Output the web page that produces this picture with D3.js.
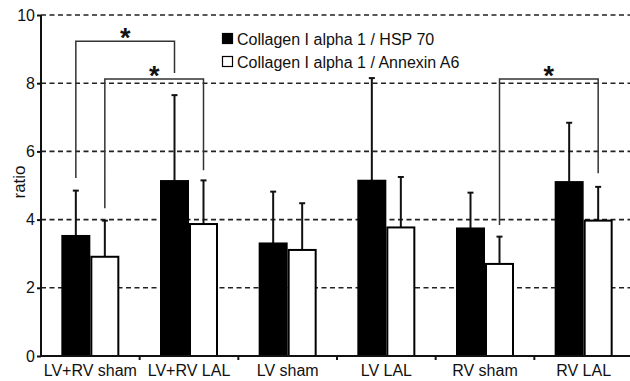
<!DOCTYPE html>
<head>
    <style>
    body { margin: 0; background: #fff; }
    text { font-family: "Liberation Sans", Arial, sans-serif; fill: #111; }
    .grid line { stroke: #222; stroke-width: 1.6; stroke-dasharray: 5,3.5; }
    </style>
    <script src="https://d3js.org/d3.v7.min.js"></script>
</head>
<body>
    <svg width="630" height="381"></svg>
    <script>

    var groups = ["LV+RV sham", "LV+RV LAL", "LV sham", "LV LAL", "RV sham", "RV LAL"];
    var seriesNames = ["Collagen I alpha 1 / HSP 70", "Collagen I alpha 1 / Annexin A6"];
    var hspMean = [3.52, 5.13, 3.30, 5.14, 3.74, 5.10];
    var hspErr  = [4.85, 7.65, 4.82, 8.15, 4.79, 6.84];
    var annMean = [2.91, 3.87, 3.11, 3.77, 2.70, 3.97];
    var annErr  = [3.97, 5.15, 4.48, 5.25, 3.50, 4.96];
    var yTicks = [0, 2, 4, 6, 8, 10];
    // significance brackets: [group, series] -> [group, series], leg ends
    var brackets = [
      {a: [0, 0], b: [1, 0], top: 9.23, ya: 5.22, yb: 8.3},
      {a: [0, 1], b: [1, 1], top: 8.12, ya: 4.33, yb: 5.45},
      {a: [4, 1], b: [5, 1], top: 8.12, ya: 3.84, yb: 5.36}
    ];

    var svg = d3.select("svg"),
        margin = {left: 41, top: 15, right: 0, bottom: 25},
        width = 630, height = 381;

    var x = d3.scaleBand().domain(groups).range([margin.left, 633]);
    var sub = d3.scaleBand().domain([0, 1]).range([0, 58]);
    var y = d3.scaleLinear().domain([0, 10]).range([356, 15]);

    function cx(g, s) { return x(groups[g]) + (x.bandwidth() - 58) / 2 + sub(s) + sub.bandwidth() / 2; }

    // dashed grid
    svg.append("g").attr("class", "grid")
      .selectAll("line").data(yTicks.slice(1))
      .enter().append("line")
        .attr("x1", margin.left).attr("x2", width)
        .attr("y1", function(d) { return y(d); }).attr("y2", function(d) { return y(d); });

    var data = [];
    groups.forEach(function(g, i) {
      data.push({g: i, s: 0, v: hspMean[i], e: hspErr[i]});
      data.push({g: i, s: 1, v: annMean[i], e: annErr[i]});
    });

    // error bars
    var eb = svg.append("g").attr("stroke", "#111").attr("stroke-width", 2);
    data.forEach(function(d) {
      var c = cx(d.g, d.s);
      eb.append("line").attr("x1", c).attr("x2", c).attr("y1", y(d.v)).attr("y2", y(d.e));
      eb.append("line").attr("x1", c - 3).attr("x2", c + 3).attr("y1", y(d.e)).attr("y2", y(d.e));
    });

    // bars
    svg.append("g").selectAll("rect").data(data)
      .enter().append("rect")
        .attr("x", function(d) { return cx(d.g, d.s) - sub.bandwidth() / 2 + 1; })
        .attr("width", sub.bandwidth() - 2)
        .attr("y", function(d) { return y(d.v); })
        .attr("height", function(d) { return y(0) - y(d.v); })
        .attr("fill", function(d) { return d.s ? "#fff" : "#000"; })
        .attr("stroke", "#000").attr("stroke-width", 2);

    // axes
    var yAxis = svg.append("g").attr("transform", "translate(" + margin.left + ",0)")
      .call(d3.axisLeft(y).tickValues(yTicks).tickSize(4).tickPadding(2));
    yAxis.select(".domain").attr("stroke", "#111").attr("stroke-width", 2).attr("d", "M0," + y(0) + "V" + y(10));
    yAxis.selectAll(".tick line").attr("stroke", "#111").attr("stroke-width", 2);
    yAxis.selectAll("text").style("font-size", "16px").attr("fill", "#222");

    var xAxis = svg.append("g").attr("transform", "translate(0," + y(0) + ")");
    xAxis.append("line").attr("x1", margin.left).attr("x2", width)
      .attr("stroke", "#111").attr("stroke-width", 2);
    xAxis.selectAll(".sep").data(groups.slice(1)).enter().append("line")
      .attr("x1", function(d) { return x(d); }).attr("x2", function(d) { return x(d); })
      .attr("y1", 0).attr("y2", 4).attr("stroke", "#111").attr("stroke-width", 2);
    xAxis.selectAll("text").data(groups).enter().append("text")
      .attr("x", function(d) { return x(d) + x.bandwidth() / 2; })
      .attr("y", 20).attr("text-anchor", "middle")
      .style("font-size", "16px").text(function(d) { return d; });

    svg.append("text")
      .attr("transform", "translate(25,182) rotate(-90)")
      .attr("text-anchor", "middle").style("font-size", "17px").text("ratio");

    // significance brackets
    var br = svg.append("g").attr("fill", "none").attr("stroke", "#333").attr("stroke-width", 1.5);
    brackets.forEach(function(b) {
      var xa = cx(b.a[0], b.a[1]), xb = cx(b.b[0], b.b[1]);
      br.append("path").attr("d", "M" + xa + "," + y(b.ya) + "V" + y(b.top) + "H" + xb + "V" + y(b.yb));
      svg.append("text").attr("x", (xa + xb) / 2).attr("y", y(b.top) + 6)
        .attr("text-anchor", "middle").style("font-size", "27px").style("font-weight", "bold").text("*");
    });

    // legend
    var leg = svg.append("g").attr("transform", "translate(222,33)");
    seriesNames.forEach(function(n, i) {
      leg.append("rect").attr("x", 0.5).attr("y", i * 23 + 0.5).attr("width", 10).attr("height", 10)
        .attr("fill", i ? "#fff" : "#000").attr("stroke", "#000").attr("stroke-width", 1.2);
      leg.append("text").attr("x", 15).attr("y", i * 23 + 11.5)
        .style("font-size", "16px").text(n);
    });

    </script>
</body>
